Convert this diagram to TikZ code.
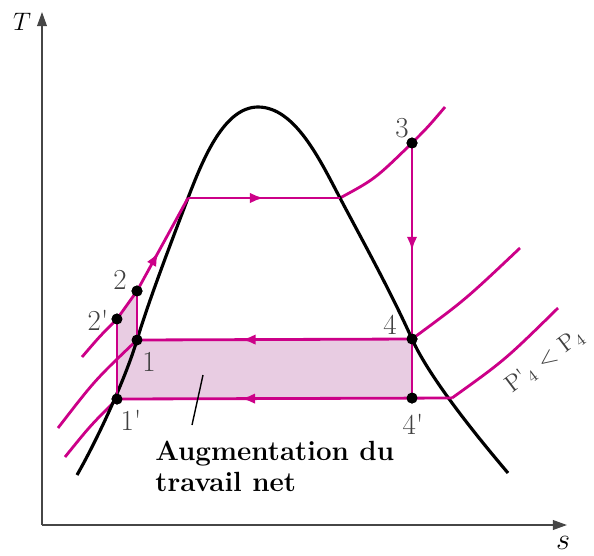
\documentclass[tikz,border=0pt]{standalone}
\usepackage{textcomp}
\usepackage{tikz}
\usetikzlibrary{arrows.meta,decorations.markings}
\definecolor{rankine}{RGB}{204,0,136}
\definecolor{gain}{RGB}{232,204,226}
\definecolor{axisgray}{RGB}{70,70,70}

\begin{document}
\begin{tikzpicture}[x=0.02cm,y=-0.02cm,
  rankline/.style={rankine,line width=1.6pt},
  dome/.style={black,line width=1.8pt},
  axis/.style={axisgray,line width=0.9pt,-{Triangle[length=8pt,width=5.5pt]}},
  dot/.style={circle,fill=black,inner sep=0pt,minimum size=0.22cm},
  ptlabel/.style={text=black!75,font=\fontsize{16.5}{18}\selectfont,inner sep=0pt},
  midarrow/.style={postaction={decorate},decoration={markings,mark=at position #1 with {\arrow{Latex[length=8pt,width=6pt]}}}}]
\useasboundingbox (0,0) rectangle (594,555);
% axes
\coordinate (o) at (42,525);
\coordinate (ttip) at (42,12);
\coordinate (stip) at (567,525);
\draw[axis] (o) -- (ttip);
\draw[axis] (o) -- (stip);
\node[font=\fontsize{15}{17}\selectfont] (tlab) at (22,22) {$T$};
\node[font=\fontsize{19}{21}\selectfont] (slab) at (563,543) {$s$};
% state points
\node[dot] (n1) at (137,340) {};
\node[dot] (n1p) at (117,399) {};
\node[dot] (n2) at (137,291) {};
\node[dot] (n2p) at (117,319) {};
\node[dot] (n3) at (412,143) {};
\node[dot] (n4) at (412,339) {};
\node[dot] (n4p) at (412,398) {};
\coordinate (f) at (188,198);
\coordinate (g) at (340,198);
\coordinate (e) at (452,398);
% extra net work
\fill[gain] (n1p.center) -- (n2p.center) -- (n2.center) -- (n1.center) -- (n4.center) -- (n4p.center) -- cycle;
% isobars
\draw[rankline] (82,357) .. controls (100,336) .. (n2p.center) -- (n2.center);
\draw[rankline] (58,428) .. controls (95,380) .. (n1.center);
\draw[rankline] (65,457) .. controls (90,426) .. (n1p.center);
\draw[rankline] (g) .. controls (375,179) .. (n3.center) .. controls (428,127) .. (445,107);
\draw[rankline] (n4.center) .. controls (465,300) .. (520,248);
\draw[rankline] (e) .. controls (505,360) .. (558,308);
% saturation dome
\draw[dome] (77,475) .. controls (97,440) and (125,380) .. (137,340)
  .. controls (149,300) and (172,240) .. (f)
  .. controls (204,156) and (225,107) .. (258,107)
  .. controls (295,107) and (320,160) .. (g)
  .. controls (360,236) and (390,290) .. (412,339)
  .. controls (430,379) and (480,440) .. (508,473);
% cycle
\draw[rankline,midarrow=0.42] (n2.center) -- (f);
\draw[rankline,midarrow=0.5] (f) -- (g);
\draw[rankline,midarrow=0.55] (n3.center) -- (n4.center);
\draw[rankline] (n4.center) -- (n4p.center);
\draw[rankline,midarrow=0.62] (n4.center) -- (n1.center);
\draw[rankline,midarrow=0.63] (e) -- (n1p.center);
\draw[rankline] (n2p.center) -- (n1p.center);
\draw[rankline] (n2.center) -- (n1.center);
% redraw dots on top
\foreach \p in {n1,n1p,n2,n2p,n3,n4,n4p}
  \fill (\p) circle[radius=0.11cm];
% point labels
\node[ptlabel] (l1) at (149,362) {1};
\node[ptlabel] (l1p) at (131,420) {1\textquotesingle};
\node[ptlabel] (l2) at (120,280) {2};
\node[ptlabel] (l2p) at (98,320) {2\textquotesingle};
\node[ptlabel] (l3) at (402,128) {3};
\node[ptlabel] (l4) at (390,325) {4};
\node[ptlabel] (l4p) at (413,424) {4\textquotesingle};
\node[ptlabel,font=\fontsize{13.5}{15}\selectfont,rotate=37,anchor=base west] (plab) at (512,394) {P\textquotesingle\textsubscript{4} $<$ P\textsubscript{4}};
% annotation
\node[anchor=north west,align=left,font=\fontsize{15.8}{17.5}\selectfont\bfseries,inner sep=0pt] (note) at (155,441) {Augmentation du\\travail net};
\coordinate (lead) at (203,375);
\draw[line width=0.8pt] (192,425) -- (lead);
\end{tikzpicture}
\end{document}
